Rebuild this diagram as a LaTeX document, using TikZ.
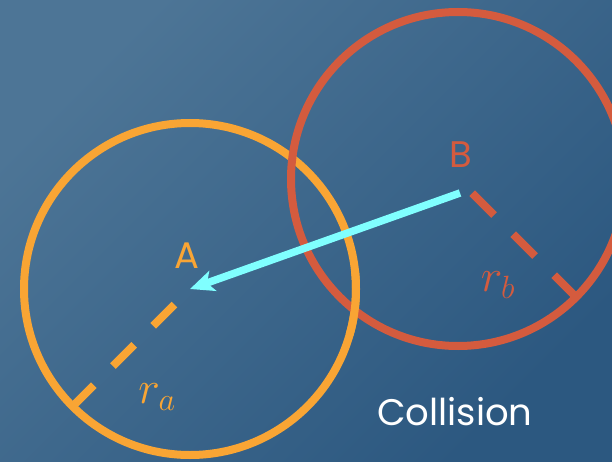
\documentclass[tikz,border=0pt]{standalone}
\usepackage{fix-cm}
\usepackage{fontspec}
\setmainfont{Poppins}
\usetikzlibrary{arrows.meta,calc}
\definecolor{bglight}{HTML}{4D7596}
\definecolor{bgdark}{HTML}{2C5880}
\definecolor{ringorange}{HTML}{F9A534}
\definecolor{ringred}{HTML}{D45B3E}
\definecolor{pushcyan}{HTML}{80FFFF}

\begin{document}
\begin{tikzpicture}[x=1pt,y=1pt,
  ring/.style={draw,circle,line width=8pt,minimum size=#1,inner sep=0pt},
  radiusline/.style={line width=8pt,dash pattern=on 30pt off 27pt},
  push/.style={draw=pushcyan,line width=7.5pt,-{Stealth[length=24pt,width=21pt,inset=6pt]}},
  lbl/.style={font=\fontsize{37}{40}\selectfont,inner sep=0pt},
  rlbl/.style={font=\fontsize{46}{50}\selectfont,inner sep=0pt}]
\useasboundingbox (0,0) rectangle (612,461);
\shade[left color=bglight,right color=bgdark,shading angle=45] (0,0) rectangle (612,461);
% centres of the two bodies
\coordinate (cA) at (190,172);
\coordinate (cB) at (458,282);
\coordinate (pushstart) at (460,268);
\coordinate (edgeA) at ($(cA)+(225:166)$);
\coordinate (edgeB) at ($(cB)+(-45:167)$);
% rings
\node[ring=332pt,ringorange] (ringA) at (cA) {};
\node[ring=334pt,ringred] (ringB) at (cB) {};
\draw[ringorange,line width=8pt] ($(cA)+(-16:166)$) arc[start angle=-16,end angle=6,radius=166];
% radii
\draw[radiusline,ringorange] (edgeA) -- (cA);
\draw[radiusline,ringred,dash pattern=on 31pt off 27pt] (edgeB) -- (cB);
% labels
\node[lbl,text=ringorange] (labA) at (186.5,205.5) {A};
\node[lbl,text=ringred] (labB) at (461,306) {B};
\node[rlbl,text=ringorange] (labra) at (157,64) {$r_a$};
\node[rlbl,text=ringred] (labrb) at (498,176) {$r_b$};
\node[font=\fontsize{37}{40}\selectfont,text=white,inner sep=0pt] (coll) at (455,49) {Collision};
% push-out direction
\draw[push] (pushstart) -- (cA);
\end{tikzpicture}
\end{document}
